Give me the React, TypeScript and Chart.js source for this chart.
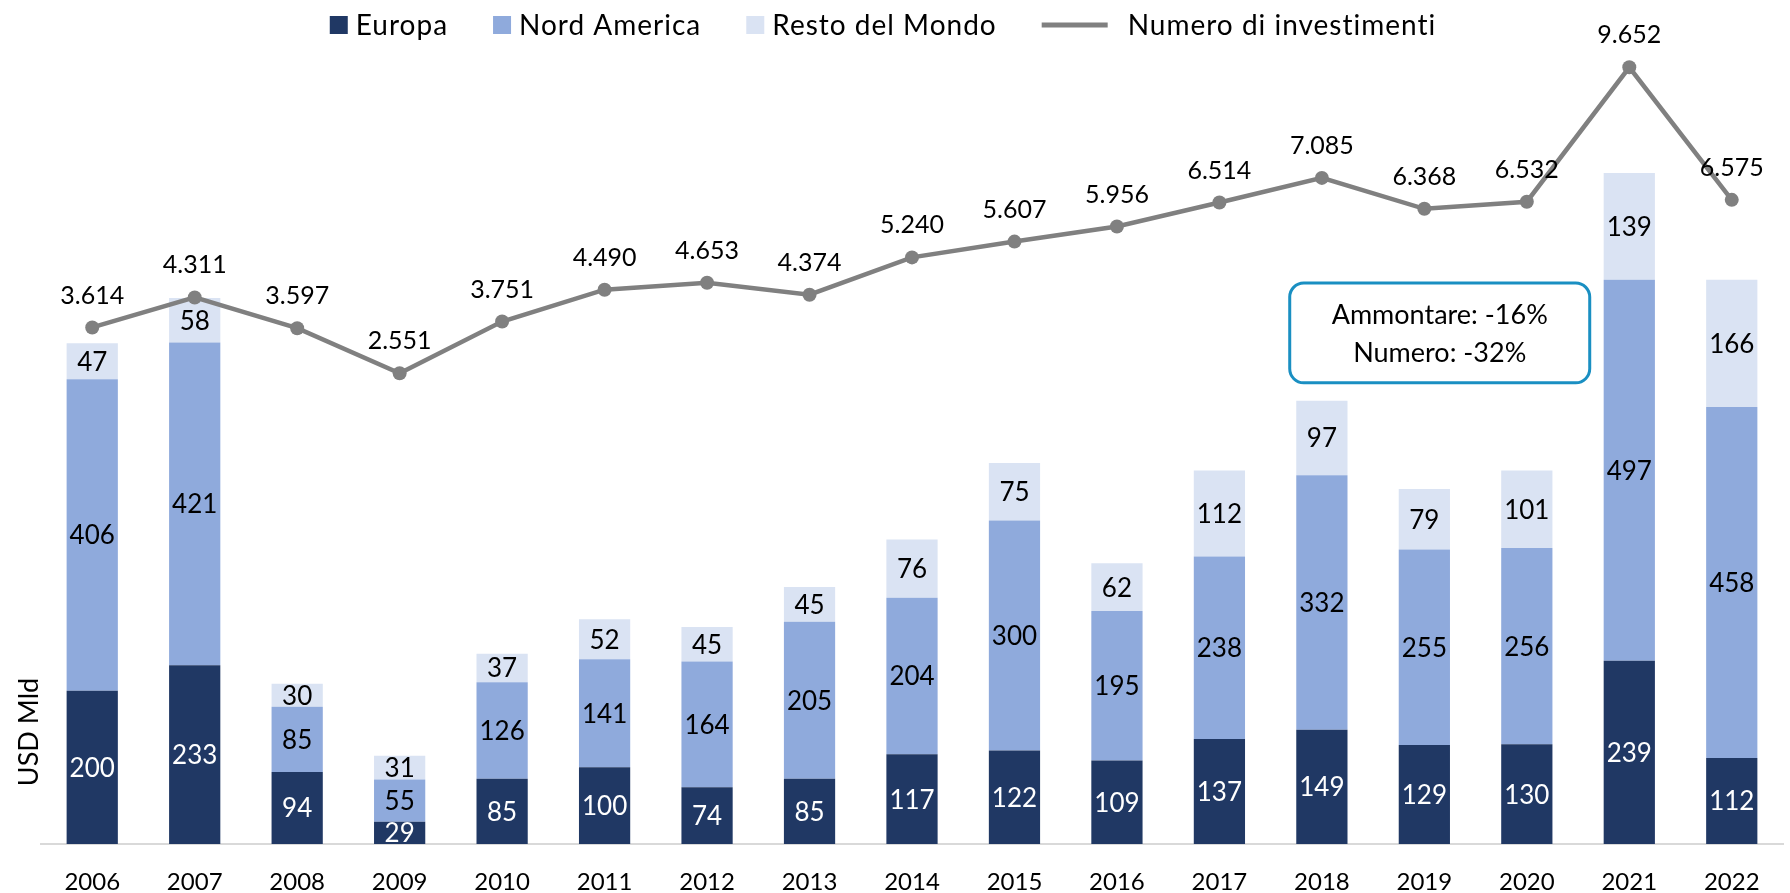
import React, { useEffect, useRef } from 'react';
import { Chart, registerables } from 'chart.js';

Chart.register(...registerables);

const years = ['2006', '2007', '2008', '2009', '2010', '2011', '2012', '2013', '2014', '2015', '2016', '2017', '2018', '2019', '2020', '2021', '2022'];
const europa = [200, 233, 94, 29, 85, 100, 74, 85, 117, 122, 109, 137, 149, 129, 130, 239, 112];
const nordAmerica = [406, 421, 85, 55, 126, 141, 164, 205, 204, 300, 195, 238, 332, 255, 256, 497, 458];
const restoMondo = [47, 58, 30, 31, 37, 52, 45, 45, 76, 75, 62, 112, 97, 79, 101, 139, 166];
const numeroInvestimenti = [3614, 4311, 3597, 2551, 3751, 4490, 4653, 4374, 5240, 5607, 5956, 6514, 7085, 6368, 6532, 9652, 6575];

const seriesLabels = ['Europa', 'Nord America', 'Resto del Mondo', 'Numero di investimenti'];
const yAxisTitle = 'USD Mld';
const boxLines = ['Ammontare: -16%', 'Numero: -32%'];

const FONT = 'Lato, "Noto Sans", sans-serif';

const fmtIt = (v: number) => {
  const s = String(Math.round(v));
  return s.length > 3 ? s.slice(0, -3) + '.' + s.slice(-3) : s;
};

const valueLabels = {
  id: 'valueLabels',
  afterDatasetsDraw(chart: any) {
    const ctx = chart.ctx;
    ctx.save();
    ctx.textAlign = 'center';
    ctx.textBaseline = 'middle';
    chart.data.datasets.forEach((ds: any, di: number) => {
      const meta = chart.getDatasetMeta(di);
      meta.data.forEach((el: any, i: number) => {
        const v = ds.data[i];
        if (ds.type === 'line') {
          ctx.font = `25px ${FONT}`;
          ctx.fillStyle = '#000';
          ctx.fillText(fmtIt(v), el.x, el.y - 32);
        } else {
          ctx.font = `26px ${FONT}`;
          const p = el.getProps(['x', 'y', 'base'], true);
          ctx.fillStyle = ds.labelColor;
          ctx.fillText(String(v), p.x, (p.y + p.base) / 2 + 1);
        }
      });
    });
    ctx.restore();
  },
};

const customLegend = {
  id: 'customLegend',
  afterDraw(chart: any) {
    const ctx = chart.ctx;
    ctx.save();
    ctx.font = `28px ${FONT}`;
    (ctx as any).letterSpacing = '1px';
    ctx.textBaseline = 'middle';
    ctx.textAlign = 'left';
    const items = chart.data.datasets.map((ds: any) => {
      const isLine = ds.type === 'line';
      const tw = ctx.measureText(ds.label).width;
      const w = isLine ? 66 + 20 + tw : 18 + 8 + tw;
      return { ds, isLine, tw, w };
    });
    const gap = 45;
    const total = items.reduce((a: number, it: any) => a + it.w, 0) + gap * (items.length - 1);
    let x = 883 - total / 2;
    const y = 25;
    items.forEach((it: any) => {
      if (it.isLine) {
        ctx.strokeStyle = it.ds.borderColor;
        ctx.lineWidth = 5;
        ctx.beginPath();
        ctx.moveTo(x, y);
        ctx.lineTo(x + 66, y);
        ctx.stroke();
        ctx.fillStyle = '#000';
        ctx.fillText(it.ds.label, x + 86, y + 1);
      } else {
        ctx.fillStyle = it.ds.backgroundColor;
        ctx.fillRect(x, y - 9, 18, 18);
        ctx.fillStyle = '#000';
        ctx.fillText(it.ds.label, x + 26, y + 1);
      }
      x += it.w + gap;
    });
    (ctx as any).letterSpacing = '0px';

    // y-axis title
    ctx.save();
    ctx.font = `27px ${FONT}`;
    ctx.translate(29, chart.chartArea.bottom - 112);
    ctx.rotate(-Math.PI / 2);
    ctx.textAlign = 'center';
    ctx.fillStyle = '#000';
    ctx.fillText(yAxisTitle, 0, 0);
    ctx.restore();

    // annotation box
    const xs = chart.scales.x;
    const y1 = chart.scales.y1;
    const cx = xs.getPixelForValue(13.15);
    const top = y1.getPixelForValue(4646);
    const bottom = y1.getPixelForValue(2330);
    const bw = 300;
    ctx.beginPath();
    ctx.roundRect(cx - bw / 2, top, bw, bottom - top, 14);
    ctx.fillStyle = '#fff';
    ctx.fill();
    ctx.lineWidth = 3;
    ctx.strokeStyle = '#1a8fc2';
    ctx.stroke();
    ctx.fillStyle = '#000';
    ctx.textAlign = 'center';
    ctx.font = `27px ${FONT}`;
    const mid = (top + bottom) / 2;
    ctx.fillText(boxLines[0], cx, mid - 18);
    ctx.fillText(boxLines[1], cx, mid + 20);
    ctx.restore();
  },
};

export default function App() {
  const ref = useRef<HTMLCanvasElement>(null);
  useEffect(() => {
    document.body.style.margin = '0';
    const chart = new Chart(ref.current as HTMLCanvasElement, {
      type: 'bar',
      data: {
        labels: years,
        datasets: [
          { type: 'bar', label: seriesLabels[0], data: europa, backgroundColor: '#203864', labelColor: '#fff', yAxisID: 'y', order: 1, barPercentage: 0.5, categoryPercentage: 1 } as any,
          { type: 'bar', label: seriesLabels[1], data: nordAmerica, backgroundColor: '#8faadc', labelColor: '#000', yAxisID: 'y', order: 1, barPercentage: 0.5, categoryPercentage: 1 } as any,
          { type: 'bar', label: seriesLabels[2], data: restoMondo, backgroundColor: '#dae3f3', labelColor: '#000', yAxisID: 'y', order: 1, barPercentage: 0.5, categoryPercentage: 1 } as any,
          { type: 'line', label: seriesLabels[3], data: numeroInvestimenti, borderColor: '#808080', backgroundColor: '#808080', borderWidth: 4.5, pointRadius: 7, pointBackgroundColor: '#808080', pointBorderWidth: 0, tension: 0, yAxisID: 'y1', order: 0 } as any,
        ],
      },
      options: {
        responsive: false,
        animation: false,
        layout: { padding: { top: 45, left: 41, right: 3, bottom: 0 } },
        plugins: { legend: { display: false }, tooltip: { enabled: false } },
        scales: {
          x: {
            stacked: true,
            grid: { display: false, drawTicks: false },
            border: { display: true, color: '#d9d9d9', width: 2 },
            ticks: { color: '#000', font: { family: FONT, size: 24, lineHeight: 1 }, padding: 26, maxRotation: 0 },
            afterFit: (scale: any) => { scale.height = 49; },
          } as any,
          y: { stacked: true, display: false, min: 0, max: 1042 },
          y1: { display: false, min: -8373, max: 10169 },
        },
      },
      plugins: [valueLabels, customLegend],
    });
    return () => chart.destroy();
  }, []);
  return (
    <div style={{ width: 1790, height: 893 }}>
      <canvas ref={ref} width={1790} height={893} />
    </div>
  );
}
